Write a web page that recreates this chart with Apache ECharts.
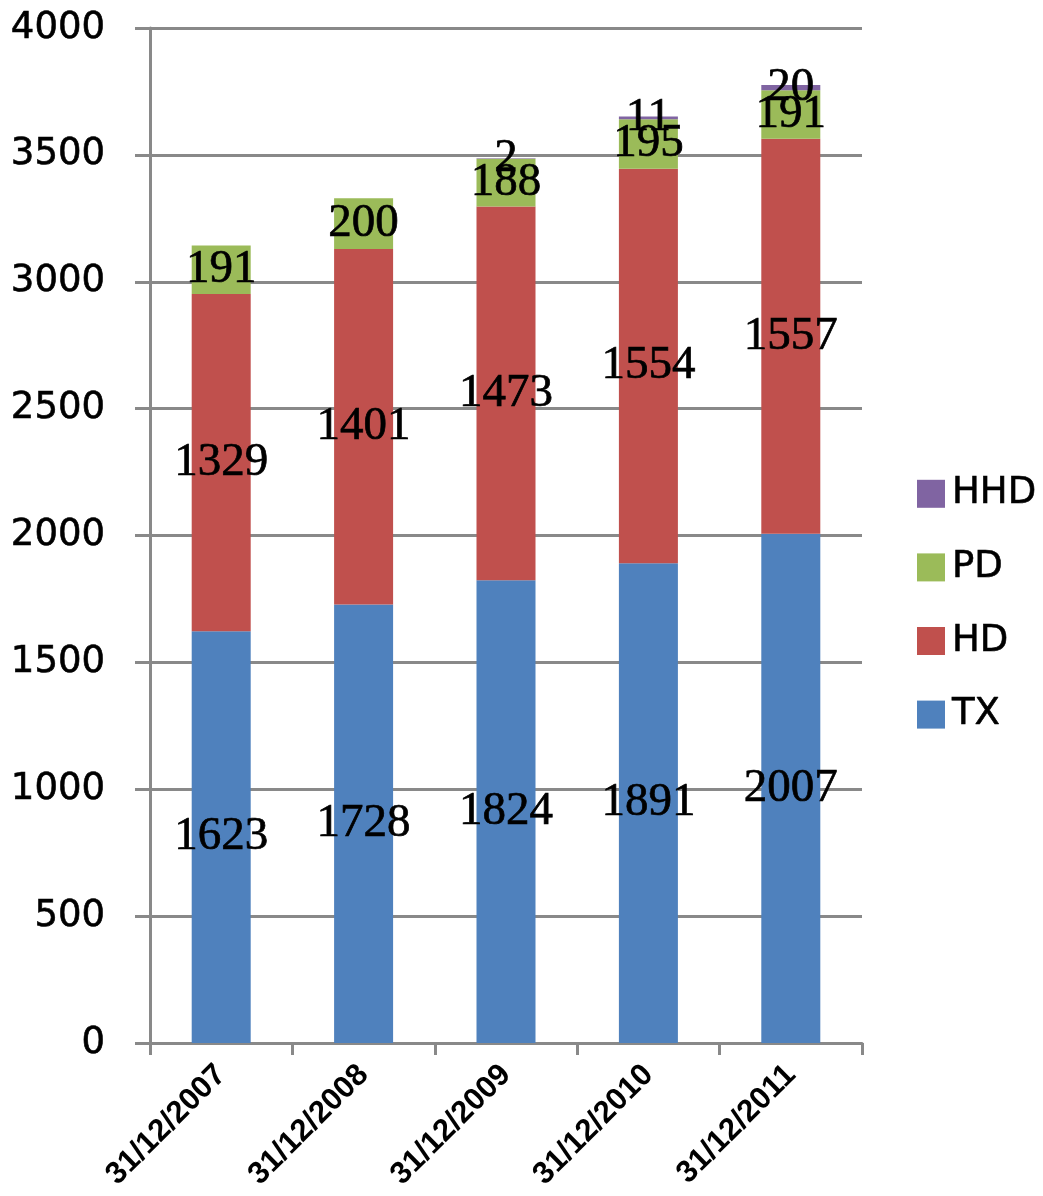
<!DOCTYPE html>
<html>
<head>
<meta charset="utf-8">
<script src="https://cdn.jsdelivr.net/npm/echarts@6/dist/echarts.min.js"></script>
<style>
html,body{margin:0;padding:0;background:#fff;}
#chart{width:1043px;height:1196px;}
</style>
</head>
<body>
<div id="chart"></div>
<script>
const categories = ['31/12/2007','31/12/2008','31/12/2009','31/12/2010','31/12/2011'];
const TX  = [1623, 1728, 1824, 1891, 2007];
const HD  = [1329, 1401, 1473, 1554, 1557];
const PD  = [191, 200, 188, 195, 191];
const HHD = [0, 0, 2, 11, 20];
const legendOrder = ['HHD','PD','HD','TX'];

const grey = '#898989';
const labelStyle = {
  show: true,
  position: 'inside',
  color: '#000',
  fontFamily: 'Liberation Serif',
  fontSize: 47,
  textBorderColor: '#000',
  textBorderWidth: 0.7,
  formatter: p => (p.value ? String(p.value) : '')
};
function mk(name, data, color){
  return {
    name, type: 'bar', stack: 'total', data,
    barWidth: 59,
    itemStyle: {color},
    label: labelStyle,
    emphasis: {disabled: true}
  };
}
const chart = echarts.init(document.getElementById('chart'), null, {renderer: 'canvas'});
chart.setOption({
  animation: false,
  backgroundColor: '#fff',
  grid: {left: 150, right: 181, top: 28, bottom: 153, containLabel: false},
  legend: {
    data: legendOrder,
    orient: 'vertical',
    left: 912,
    top: 470,
    itemWidth: 28,
    itemHeight: 28,
    itemGap: 36,
    icon: 'rect',
    textStyle: {fontFamily: 'DejaVu Sans', fontSize: 37, color: '#000', padding: [0,0,0,2], textBorderColor: '#000', textBorderWidth: 0.6}
  },
  xAxis: {
    type: 'category',
    data: categories,
    axisLine: {show: true, lineStyle: {color: grey, width: 3}},
    axisTick: {show: true, alignWithLabel: false, length: 12, lineStyle: {color: grey, width: 3}},
    axisLabel: {rotate: 45, margin: 27, interval: 0, color: '#000', fontFamily: 'Liberation Sans', fontWeight: 'bold', fontSize: 31}
  },
  yAxis: {
    type: 'value',
    min: 0, max: 4000, interval: 500,
    axisLine: {show: true, lineStyle: {color: grey, width: 3}},
    axisTick: {show: true, length: 15, lineStyle: {color: grey, width: 3}},
    splitLine: {show: true, lineStyle: {color: grey, width: 3}},
    axisLabel: {margin: 45, color: '#000', fontFamily: 'DejaVu Sans', fontSize: 37, textBorderColor: '#000', textBorderWidth: 0.6, formatter: v => String(v)}
  },
  series: [
    mk('TX', TX, '#4F81BD'),
    mk('HD', HD, '#C0504D'),
    mk('PD', PD, '#9BBB59'),
    mk('HHD', HHD, '#8064A2')
  ]
});
</script>
</body>
</html>
